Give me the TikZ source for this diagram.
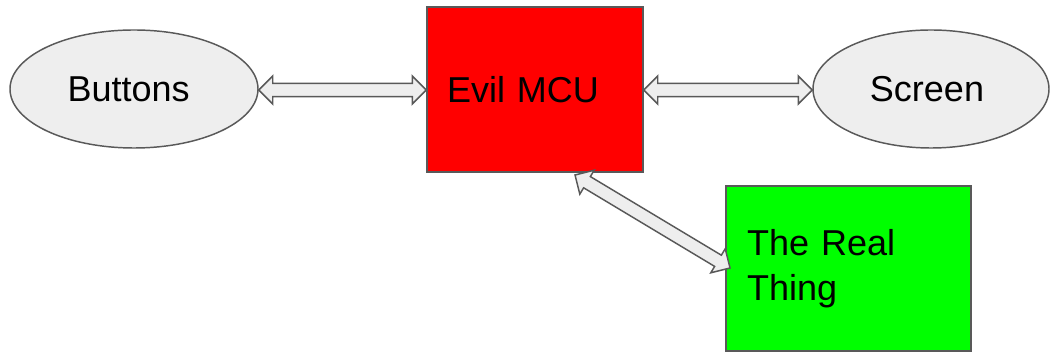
\documentclass[tikz,border=0pt]{standalone}
\usepackage{fontspec}
\setmainfont{Liberation Sans}
\usetikzlibrary{shapes.geometric,calc}
\definecolor{edge}{HTML}{595959}
\definecolor{lightfill}{HTML}{EEEEEE}
\definecolor{mcured}{HTML}{FF0000}
\definecolor{realgreen}{HTML}{00FF00}
\newcommand\hl{10.5pt}
\newcommand\hw{10.5pt}
\newcommand\sw{4.9pt}
\newcommand\dblarr[2]{\draw[blockarrow] (#1) -- ($(#1)!\hl!(#2)!\hw!90:(#2)$) -- ($(#1)!\hl!(#2)!\sw!90:(#2)$) -- ($(#2)!\hl!(#1)!\sw!-90:(#1)$) -- ($(#2)!\hl!(#1)!\hw!-90:(#1)$) -- (#2) -- ($(#2)!\hl!(#1)!\hw!90:(#1)$) -- ($(#2)!\hl!(#1)!\sw!90:(#1)$) -- ($(#1)!\hl!(#2)!\sw!-90:(#2)$) -- ($(#1)!\hl!(#2)!\hw!-90:(#2)$) -- cycle;}
\tikzset{
  every node/.style={font=\fontsize{27pt}{33.75pt}\selectfont},
  oval/.style={ellipse, draw=edge, fill=lightfill, line width=1.1pt, inner sep=0pt},
  box/.style={rectangle, draw=edge, line width=1.1pt, inner sep=0pt, align=left},
  blockarrow/.style={draw=edge, fill=lightfill, line width=1.1pt, line join=miter}
}
\begin{document}
\begin{tikzpicture}[x=0.75pt,y=-0.75pt]
\useasboundingbox (0,0) rectangle (1050,352);
\node[oval, minimum width=186pt, minimum height=88.5pt] (buttons) at (134,89) {\hspace*{-8pt}Buttons};
\node[oval, minimum width=177pt, minimum height=88.5pt] (screen) at (931,89) {\hspace*{-6pt}Screen};
\node[box, fill=mcured, minimum width=162pt, minimum height=123.75pt, text width=132pt] (mcu) at (535,89.5) {Evil MCU};
\node[box, fill=realgreen, minimum width=183.75pt, minimum height=123.75pt, text width=152pt] (real) at (848.5,268.5) {The Real\\Thing};
\coordinate (b1) at (buttons.east |- 0,90);
\coordinate (m1) at (mcu.west |- 0,90);
\coordinate (m2) at (mcu.east |- 0,90);
\coordinate (s1) at (screen.west |- 0,90);
\coordinate (d1) at (575,175);
\coordinate (d2) at (730,268);
\dblarr{b1}{m1}
\dblarr{m2}{s1}
\dblarr{d1}{d2}
\end{tikzpicture}
\end{document}
